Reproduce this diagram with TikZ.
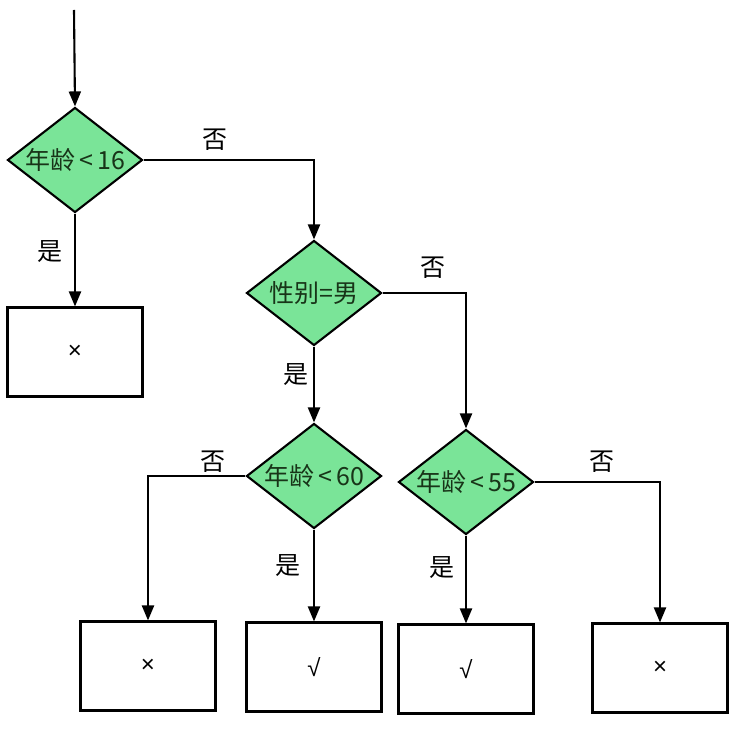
\documentclass[tikz,border=0pt]{standalone}
\usepackage{fontspec}
\usepackage{tikz}
\usetikzlibrary{shapes.geometric}
\usetikzlibrary{arrows.meta}
\newfontfamily\cjk{Noto Sans CJK SC}
\newfontfamily\resfont{Liberation Sans}
\definecolor{decgreen}{RGB}{122,228,152}
\definecolor{dectext}{RGB}{24,52,24}

\begin{document}
\begin{tikzpicture}[x=1pt,y=-1pt,
	dec/.style={diamond, draw, line width=2.1pt, fill=decgreen, inner sep=-6pt,
		minimum width=135pt, minimum height=105pt, text=dectext,
		font=\cjk\fontsize{25}{25}\selectfont},
	res/.style={draw, line width=2.1pt, minimum width=135pt, minimum height=89pt,
		font=\resfont\fontsize{24}{24}\selectfont},
	lab/.style={font=\cjk\fontsize{25}{25}\selectfont},
	arr/.style={-{Triangle[length=15pt,width=12pt]}, line width=2.1pt}]
	\useasboundingbox[fill=white] (0,0) rectangle (744,754);
	\coordinate (start) at (74,10);
	% decisions
	\node[dec] (age16) at (75,160) {年龄\,<\,16};
	\node[dec] (sex) at (314,293) {性别=男};
	\node[dec] (age60) at (314,476) {年龄\,<\,60};
	\node[dec] (age55) at (466,482) {年龄\,<\,55};
	% results
	\node[res] (r1) at (75,352) {×};
	\node[res] (r2) at (148,666) {×};
	\node[res] (r3) at (314,667) {√};
	\node[res] (r4) at (466,669) {√};
	\node[res] (r5) at (660,668) {×};
	% arrows
	\draw[arr] (start) -- (age16.north);
	\draw[arr] (age16.south) -- (r1.north);
	\draw[arr] (age16.east) -| (sex.north);
	\draw[arr] (sex.south) -- (age60.north);
	\draw[arr] (sex.east) -| (age55.north);
	\draw[arr] (age60.west) -| (r2.north);
	\draw[arr] (age60.south) -- (r3.north);
	\draw[arr] (age55.south) -- (r4.north);
	\draw[arr] (age55.east) -| (r5.north);
	% labels
	\node[lab] (l1) at (215,140) {否};
	\node[lab] (l2) at (50,252) {是};
	\node[lab] (l3) at (433,268) {否};
	\node[lab] (l4) at (296,375) {是};
	\node[lab] (l5) at (213,462) {否};
	\node[lab] (l6) at (288,566) {是};
	\node[lab] (l7) at (442,568) {是};
	\node[lab] (l8) at (602,462) {否};
\end{tikzpicture}
\end{document}
